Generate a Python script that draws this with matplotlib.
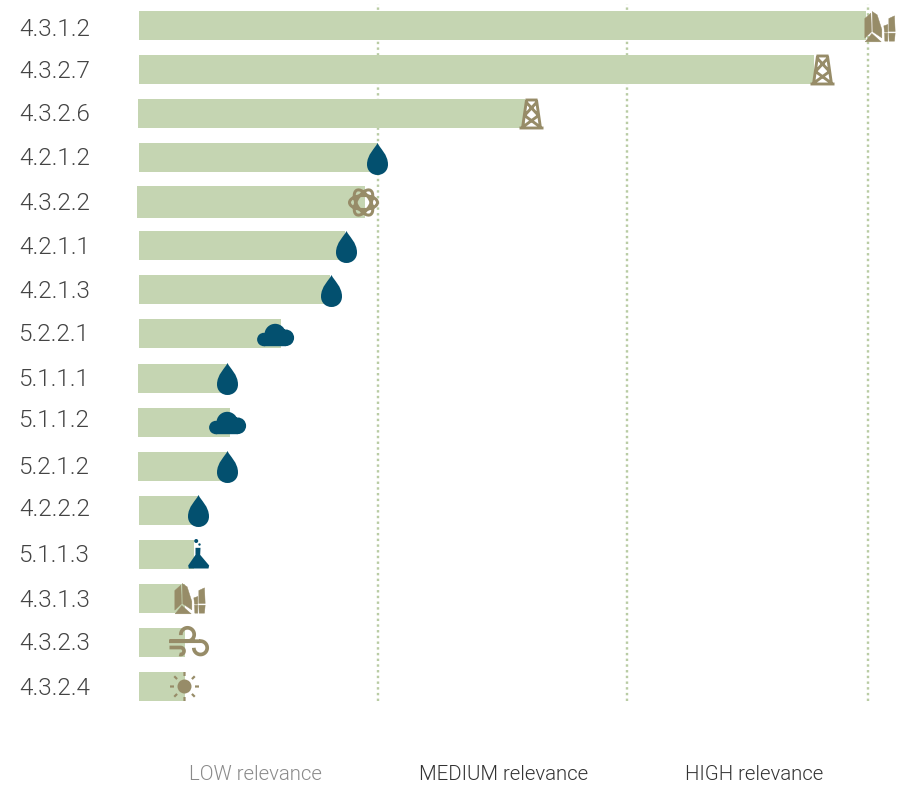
import numpy as np
import matplotlib.pyplot as plt
from matplotlib.path import Path
from matplotlib.transforms import Affine2D

# ==================== data ====================
labels = ['4.3.1.2', '4.3.2.7', '4.3.2.6', '4.2.1.2', '4.3.2.2', '4.2.1.1', '4.2.1.3', '5.2.2.1',
          '5.1.1.1', '5.1.1.2', '5.2.1.2', '4.2.2.2', '5.1.1.3', '4.3.1.3', '4.3.2.3', '4.3.2.4']
values = [727, 675, 386, 239, 226, 206, 191, 142, 89, 91, 89, 59, 55, 46, 46, 46]
icons = ['rock', 'tower', 'tower', 'drop', 'atom', 'drop', 'drop', 'cloud',
         'drop', 'cloud', 'drop', 'drop', 'flask', 'rock', 'wind', 'sun']
icon_x = [740, 683, 392, 238, 224, 207, 192, 136, 88.5, 88, 88.5, 59, 59, 50, 49, 45]
limits = [239, 488, 729]
zones = ['LOW relevance', 'MEDIUM relevance', 'HIGH relevance']
zone_x = [116, 365, 615]

# ==================== style ====================
W, H = 904, 786
BAR = '#c5d5b2'
GRID = '#b9cca4'
BLUE = '#03506f'
TAN = '#978c68'
plt.rcParams['font.family'] = ['Roboto', 'Liberation Sans', 'DejaVu Sans']
plt.rcParams['font.weight'] = 300
PT = 0.72  # px -> pt at dpi 100


def arc(cx, cy, r, a0, a1, n=30):
    a = np.radians(np.linspace(a0, a1, n))
    return np.column_stack([cx + r*np.cos(a), cy + r*np.sin(a)])


def polys(shapes, ox, oy):
    # shapes are written in 3x zoom pixels, y down
    out = []
    for s in shapes:
        p = (np.array(s, float) - [ox, oy])/3*[1, -1]
        out.append(Path(np.vstack([p, p[:1]]), closed=True))
    return Path.make_compound_path(*out)


def circle(x, y, r):
    return Path.circle((x, y), r)


def make_icons():
    out = {}
    drop = Path([(0, 15.5), (2.5, 10), (10.5, 4), (10.5, -6), (10.5, -12.5), (5.5, -16.5), (0, -16.5),
                 (-5.5, -16.5), (-10.5, -12.5), (-10.5, -6), (-10.5, 4), (-2.5, 10), (0, 15.5), (0, 15.5)],
                [Path.MOVETO] + [Path.CURVE4]*12 + [Path.CLOSEPOLY])
    out['drop'] = (drop, True, BLUE, 0)
    base = Path.unit_rectangle().transformed(Affine2D().scale(22, 10).translate(-11.7, -11.7))
    cloud = Path.make_compound_path(circle(-11.7, -5, 6.7), circle(-0.3, 0, 10.7), circle(10.3, -3.3, 8.3), base)
    out['cloud'] = (cloud, True, BLUE, 0)
    flask = polys([[(196, 53), (211, 53), (210, 74), (237, 106), (235, 115), (176, 115), (174, 106), (196, 74)]], 205, 73)
    flask = Path(flask.vertices[::-1], flask.codes)
    out['flask'] = (Path.make_compound_path(flask, circle(-2.3, 13.5, 2.0), circle(1.0, 10.0, 1.2)), True, BLUE, 0)
    rock = polys([[(253, 52), (271, 36), (273, 92), (253, 111)],
                  [(275, 31), (290, 41), (304, 85), (304, 110), (277, 92)],
                  [(254, 122), (274, 97), (302, 122)],
                  [(310, 74), (322, 70), (322, 93), (312, 93)],
                  [(325, 52), (342, 44), (344, 91), (325, 91)],
                  [(312, 96), (322, 96), (322, 120), (313, 120)],
                  [(325, 96), (344, 96), (342, 120), (326, 120)]], 297, 76)
    out['rock'] = (rock, True, TAN, 0.4)
    segs = [[(-5, 14.5), (-9, -13.5)], [(5, 14.5), (9, -13.5)], [(-6, 14.5), (6, 14.5)], [(-12, -13.5), (12, -13.5)],
            [(-5, 12), (7, -1)], [(5, 12), (-7, -1)], [(-7, -1), (8, -12)], [(7, -1), (-8, -12)]]
    out['tower'] = (Path.make_compound_path(*[Path(s) for s in segs]), False, TAN, 2.9)
    rings = []
    for ang in [0, 60, 120]:
        rings.append(Path.unit_circle().transformed(Affine2D().scale(14, 7).rotate_deg(ang)))
    out['atom'] = (Path.make_compound_path(*rings), False, TAN, 3.0)
    wind = []
    wind.append(np.vstack([[(-19, 1.3), (-1, 1.3)], arc(-1, 8, 6.7, -90, 185)]))
    wind.append(np.vstack([[(-19, 1.3), (12, 1.3)], arc(12, -5.3, 6.7, 90, -180)]))
    wind.append(np.vstack([[(-19, -5), (-8, -5)], arc(-8, -8.5, 3.5, 90, -110)]))
    out['wind'] = (Path.make_compound_path(*[Path(w) for w in wind]), False, TAN, 3.7)
    rays = []
    for ang in range(0, 360, 45):
        c, s = np.cos(np.radians(ang)), np.sin(np.radians(ang))
        rays.append(Path([(10.5*c, 10.5*s + 1), (14.5*c, 14.5*s + 1)]))
    out['rays'] = (Path.make_compound_path(*rays), False, TAN, 2.2)
    out['sun'] = (circle(0, 1, 7), True, TAN, 0)
    return out


def draw_icon(ax, x, y, icon):
    path, filled, color, lw = icon
    size = 2*np.abs(path.vertices).max()*PT
    ax.plot([x], [y], marker=path, ms=size, mfc=color if filled else 'none', mec=color,
            mew=lw*PT, ls='none', clip_on=False, zorder=4)


def main():
    fig = plt.figure(figsize=(W/100, H/100), dpi=100, facecolor='white')
    top, bottom, left = 4, 701, 139
    ax = fig.add_axes([left/W, 1 - bottom/H, (W - left)/W, (bottom - top)/H])
    ax.set_xlim(0, W - left)
    step = (686.5 - 25.5)/15
    ax.set_ylim(15 + (bottom - 686.5)/step, (top - 25.5)/step)
    for s in ax.spines.values():
        s.set_visible(False)

    # uneven bar edges of the original
    start = [0, 0, -1, 0, -2, 0, 0, 0, -1, -1, -1, 0, 0, 0, 0, 0]
    height = [29]*16
    height[4] = 32
    ypos = np.arange(len(labels))
    ax.vlines(limits, *ax.get_ylim(), colors=GRID, lw=2.4*PT, linestyles=[(0, (1, 1.38))], zorder=1)
    ax.barh(ypos, np.array(values) - np.array(start), left=start, height=np.array(height)/step,
            color=BAR, zorder=2, clip_on=False)

    shapes = make_icons()
    for x, y, name in zip(icon_x, ypos, icons):
        draw_icon(ax, x, y, shapes[name])
        if name == 'sun':
            draw_icon(ax, x, y, shapes['rays'])

    # label heights wander a little
    nudge = [4, 2, 1, 1, 2, 2, 2, 1, 1, -2, 1, -1, 1, 2, 1, 2]
    for y, lab, dy in zip(ypos, labels, nudge):
        ax.annotate(lab, (0, y), xytext=(-49*PT, -dy*PT), textcoords='offset points',
                    ha='right', va='center', fontsize=17.5, color='#444444', annotation_clip=False)

    ax.set_yticks([])
    ax.set_xticks(zone_x, zones, fontsize=14.7)
    ax.tick_params(axis='x', length=0, pad=64*PT)
    for tl, col in zip(ax.get_xticklabels(), ['#8a8a8a', '#333333', '#333333']):
        tl.set_color(col)

    fig.savefig('out.png', dpi=100)


if __name__ == '__main__':
    main()
